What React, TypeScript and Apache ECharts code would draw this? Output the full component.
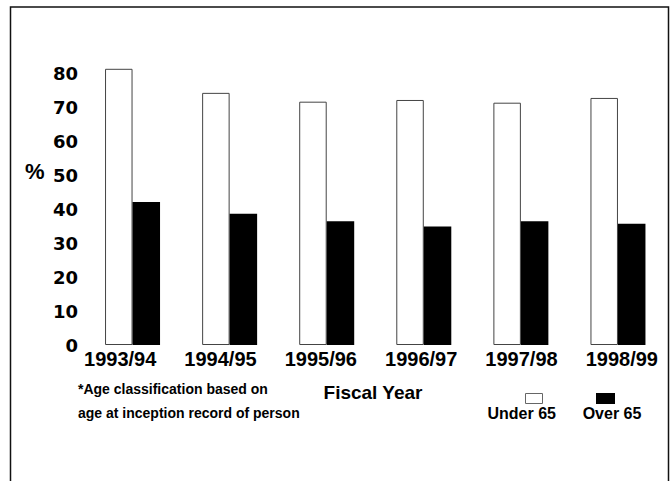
import React, { useEffect, useRef } from "react";
import * as echarts from "echarts";

const categories = ["1993/94", "1994/95", "1995/96", "1996/97", "1997/98", "1998/99"];
const under65 = [81.5, 74.4, 71.8, 72.3, 71.5, 72.9];
const over65 = [42.2, 38.7, 36.5, 35.0, 36.5, 35.8];
const seriesNames = ["Under 65", "Over 65"];
const footnoteLines = ["*Age classification based on", "age at inception record of person"];
const axisTitle = "Fiscal Year";
const yUnit = "%";

const FONT = "'Liberation Sans', Arial, Helvetica, sans-serif";
const WIDE = "'DejaVu Sans', Verdana, sans-serif";

export default function App() {
  const ref = useRef<HTMLDivElement>(null);
  useEffect(() => {
    if (!ref.current) return;
    const chart = echarts.init(ref.current, null, { renderer: "svg" });
    const yCommon = { type: "value", min: 0, max: 90, interval: 10 };
    chart.setOption({
      animation: false,
      backgroundColor: "#ffffff",
      grid: [
        { left: 84, right: 5.5, top: 40, bottom: 136 },
        { left: 70, width: 608, top: 40, bottom: 136 },
      ],
      xAxis: [
        {
          type: "category",
          gridIndex: 0,
          data: categories,
          axisLine: { show: false },
          axisTick: { show: false },
          axisLabel: { show: false },
        },
        {
          type: "category",
          gridIndex: 1,
          data: categories,
          axisLine: { show: false },
          axisTick: { show: false },
          axisLabel: {
            margin: 4,
            fontFamily: FONT,
            fontWeight: "bold",
            fontSize: 20,
            color: "#000",
          },
        },
      ],
      yAxis: [
        {
          ...yCommon,
          gridIndex: 0,
          axisLine: { show: false },
          axisTick: { show: false },
          splitLine: { show: false },
          axisLabel: {
            margin: 6,
            fontFamily: WIDE,
            fontWeight: "bold",
            fontSize: 18,
            color: "#000",
            formatter: (v: number) => (v <= 80 ? String(v) : ""),
          },
        },
        {
          ...yCommon,
          gridIndex: 1,
          show: false,
        },
      ],
      series: [
        {
          name: seriesNames[0],
          type: "bar",
          xAxisIndex: 0,
          yAxisIndex: 0,
          data: under65,
          barWidth: 27.5,
          barGap: "0%",
          itemStyle: { color: "#ffffff", borderColor: "#444", borderWidth: 1 },
        },
        {
          name: seriesNames[1],
          type: "bar",
          xAxisIndex: 0,
          yAxisIndex: 0,
          data: over65,
          barWidth: 27.5,
          barGap: "0%",
          itemStyle: { color: "#000000" },
        },
      ],
      graphic: [
        {
          type: "rect",
          shape: { x: 10.5, y: 7, width: 658, height: 520 },
          style: { fill: "none", stroke: "#111", lineWidth: 1.5 },
          silent: true,
        },
        {
          type: "text",
          x: 25,
          y: 171,
          style: {
            text: yUnit,
            font: `bold 22px ${FONT}`,
            fill: "#000",
            align: "left",
            verticalAlign: "middle",
          },
        },
        {
          type: "text",
          left: 78,
          top: 377,
          style: {
            text: footnoteLines.join("\n"),
            font: `bold 14px ${FONT}`,
            lineHeight: 24,
            fill: "#000",
          },
        },
        {
          type: "text",
          x: 373,
          y: 383,
          style: {
            text: axisTitle,
            font: `bold 19px ${FONT}`,
            fill: "#000",
            align: "center",
            verticalAlign: "top",
          },
        },
        {
          type: "rect",
          shape: { x: 525.5, y: 393.5, width: 17, height: 10 },
          style: { fill: "#fff", stroke: "#666", lineWidth: 1 },
        },
        {
          type: "rect",
          shape: { x: 596, y: 393, width: 19, height: 11 },
          style: { fill: "#000" },
        },
        {
          type: "text",
          x: 521.7,
          y: 405,
          style: {
            text: seriesNames[0],
            font: `bold 16px ${FONT}`,
            fill: "#000",
            align: "center",
            verticalAlign: "top",
          },
        },
        {
          type: "text",
          x: 612,
          y: 405,
          style: {
            text: seriesNames[1],
            font: `bold 16px ${FONT}`,
            fill: "#000",
            align: "center",
            verticalAlign: "top",
          },
        },
      ],
    });
    return () => chart.dispose();
  }, []);
  return (
    <div
      ref={ref}
      style={{ position: "fixed", left: 0, top: 0, width: 672, height: 481 }}
    />
  );
}
